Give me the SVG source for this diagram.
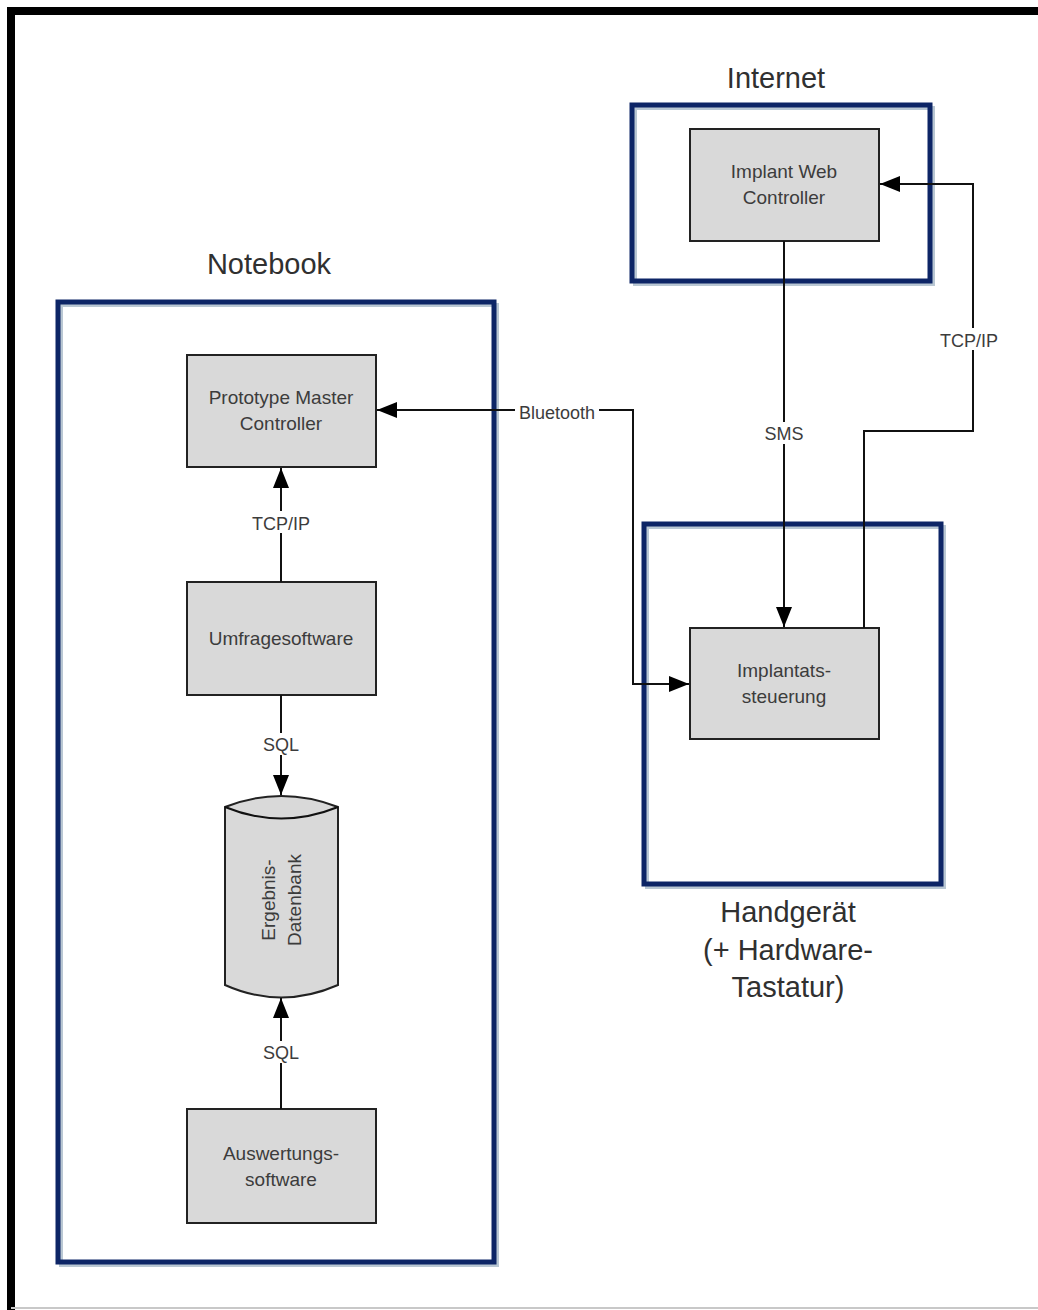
<svg xmlns="http://www.w3.org/2000/svg" width="1038" height="1310" viewBox="0 0 1038 1310">
<style>
.frame{fill:none;stroke:#000;stroke-width:8}
.cont{fill:none;stroke:#0d2566;stroke-width:5}
.shadow{fill:none;stroke:#b9c7d3;stroke-width:4}
.box{fill:#d9d9d9;stroke:#222;stroke-width:2}
.t{font-family:"Liberation Sans",Arial,sans-serif;font-size:19px;fill:#3c3c3c;text-anchor:middle}
.title{font-family:"Liberation Sans",Arial,sans-serif;font-size:29px;fill:#303030;text-anchor:middle}
.lbl{font-family:"Liberation Sans",Arial,sans-serif;font-size:18px;fill:#3c3c3c;text-anchor:middle}
.c{fill:none;stroke:#111;stroke-width:2}
</style>
<defs>
<marker id="ah" viewBox="0 0 20 16" refX="20" refY="8" markerWidth="20" markerHeight="16" markerUnits="userSpaceOnUse" orient="auto">
<path d="M0,0 L20,8 L0,16 z" fill="#000"/>
</marker>
</defs>
<rect width="1038" height="1310" fill="#fff"/>
<g id="frame">
<path class="frame" d="M11,1310 V11 H1038"/>
<line x1="11" y1="1308" x2="1038" y2="1308" stroke="#c8c8c8" stroke-width="2"/>
</g>
<g id="notebook">
<rect class="shadow" x="61" y="305" width="436" height="960"/>
<rect class="cont" x="58" y="302" width="436" height="960"/>
<text class="title" x="269" y="274">Notebook</text>
</g>
<g id="internet">
<rect class="shadow" x="635" y="108" width="298" height="176"/>
<rect class="cont" x="632" y="105" width="298" height="176"/>
<text class="title" x="776" y="88">Internet</text>
</g>
<g id="handgeraet">
<rect class="shadow" x="647" y="527" width="297" height="360"/>
<rect class="cont" x="644" y="524" width="297" height="360"/>
<text class="title" x="788" y="922">Handgerät</text>
<text class="title" x="788" y="960">(+ Hardware-</text>
<text class="title" x="788" y="997">Tastatur)</text>
</g>
<g id="prototype">
<rect class="box" x="187" y="355" width="189" height="112"/>
<text class="t" x="281" y="404">Prototype Master</text>
<text class="t" x="281" y="430">Controller</text>
</g>
<g id="umfrage">
<rect class="box" x="187" y="582" width="189" height="113"/>
<text class="t" x="281" y="645">Umfragesoftware</text>
</g>
<g id="datenbank">
<path class="box" d="M225,807 Q281,785 338,807 V985 Q281,1010 225,985 Z"/>
<path class="c" d="M225,807 Q281,830 338,807"/>
<text class="t" transform="translate(275,900) rotate(-90)">Ergebnis-</text>
<text class="t" transform="translate(301,900) rotate(-90)">Datenbank</text>
</g>
<g id="auswertung">
<rect class="box" x="187" y="1109" width="189" height="114"/>
<text class="t" x="281" y="1160">Auswertungs-</text>
<text class="t" x="281" y="1186">software</text>
</g>
<g id="webcontroller">
<rect class="box" x="690" y="129" width="189" height="112"/>
<text class="t" x="784" y="178">Implant Web</text>
<text class="t" x="784" y="204">Controller</text>
</g>
<g id="implantat">
<rect class="box" x="690" y="628" width="189" height="111"/>
<text class="t" x="784" y="677">Implantats-</text>
<text class="t" x="784" y="703">steuerung</text>
</g>
<g id="connectors">
<path class="c" d="M281,582 V468" marker-end="url(#ah)"/>
<rect x="248" y="511" width="66" height="22" fill="#fff"/>
<text class="lbl" x="281" y="530">TCP/IP</text>
<path class="c" d="M281,695 V795" marker-end="url(#ah)"/>
<rect x="260" y="733" width="42" height="22" fill="#fff"/>
<text class="lbl" x="281" y="751">SQL</text>
<path class="c" d="M281,1109 V998" marker-end="url(#ah)"/>
<rect x="260" y="1041" width="42" height="22" fill="#fff"/>
<text class="lbl" x="281" y="1059">SQL</text>
<path class="c" d="M633,532 V410 H377" marker-end="url(#ah)"/>
<path class="c" d="M633,532 V684 H689" marker-end="url(#ah)"/>
<rect x="515" y="401" width="84" height="22" fill="#fff"/>
<text class="lbl" x="557" y="419">Bluetooth</text>
<path class="c" d="M784,241 V627" marker-end="url(#ah)"/>
<rect x="762" y="422" width="44" height="22" fill="#fff"/>
<text class="lbl" x="784" y="440">SMS</text>
<path class="c" d="M864,628 V431 H973 V184 H880" marker-end="url(#ah)"/>
<rect x="938" y="328" width="64" height="22" fill="#fff"/>
<text class="lbl" x="969" y="347">TCP/IP</text>
</g>
</svg>
